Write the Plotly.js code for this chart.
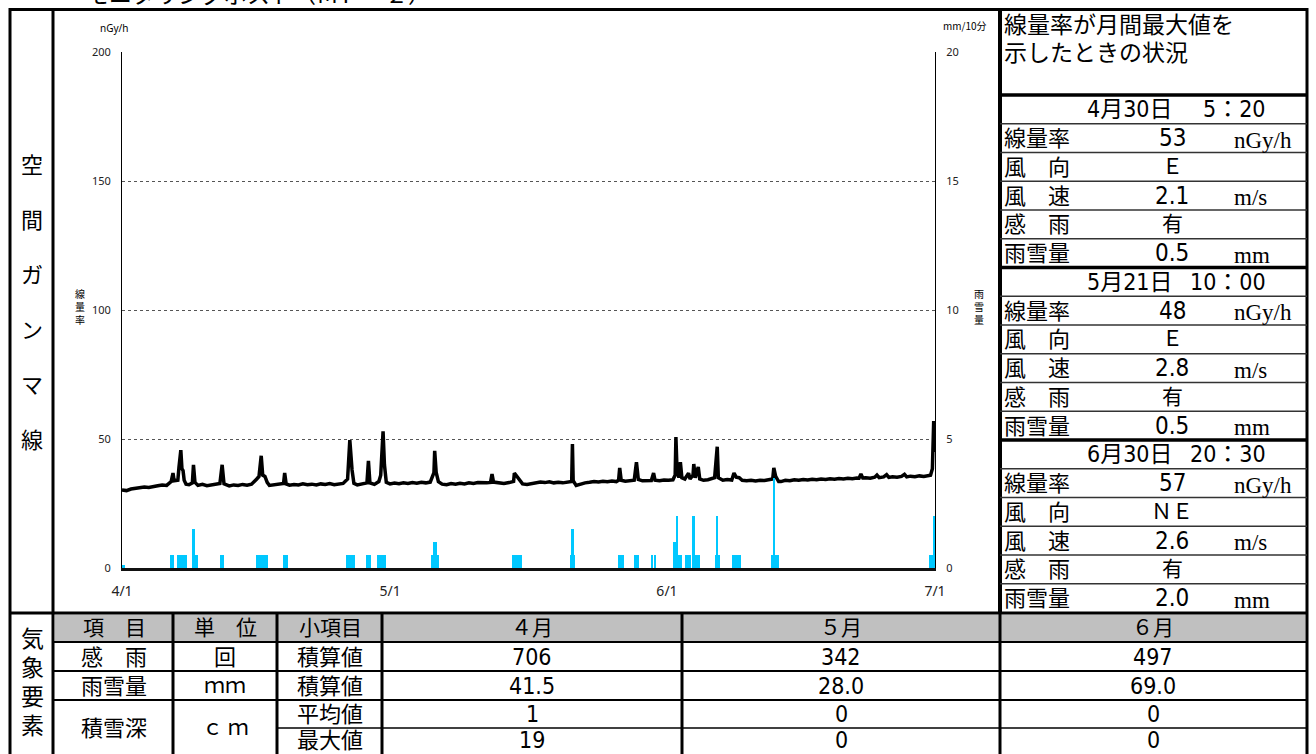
<!DOCTYPE html>
<html><head><meta charset="utf-8">
<script src="https://cdn.plot.ly/plotly-3.0.1.min.js"></script>
<style>html,body{margin:0;padding:0;background:#fff;}#chart{width:1316px;height:754px;}</style>
</head><body><div id="chart"></div>
<script>
// ---------- data ----------
const YEAR = '2024-';
const doseTimes = [
 '04-01 00:00','04-01 12:00','04-02 00:00','04-02 12:00','04-03 00:00','04-03 12:00','04-04 00:00','04-04 12:00','04-05 00:00','04-05 12:00',
 '04-06 00:00','04-06 12:00','04-06 17:00','04-06 20:00','04-07 06:00','04-07 09:00','04-07 14:00','04-07 17:00','04-07 20:00','04-07 23:00',
 '04-08 04:00','04-08 12:00','04-08 21:00','04-09 00:00','04-09 04:00','04-09 12:00','04-10 00:00','04-10 12:00','04-11 00:00','04-11 12:00',
 '04-11 23:00','04-12 05:00','04-12 10:00','04-13 00:00','04-13 12:00','04-14 00:00','04-14 12:00','04-15 00:00','04-15 12:00','04-16 02:00',
 '04-16 08:00','04-16 14:00','04-16 18:00','04-17 00:00','04-17 06:00','04-17 12:00','04-18 00:00','04-18 12:00','04-19 02:00','04-19 05:00',
 '04-19 09:00','04-19 18:00','04-20 06:00','04-20 18:00','04-21 06:00','04-21 18:00','04-22 06:00','04-22 18:00','04-23 06:00','04-23 18:00',
 '04-24 06:00','04-24 18:00','04-25 06:00','04-25 18:00','04-26 06:00','04-26 12:00','04-26 18:00','04-26 23:00','04-27 08:00','04-27 20:00',
 '04-28 10:00','04-28 14:00','04-28 18:00','04-29 06:00','04-29 18:00','04-29 23:00','04-30 05:20','04-30 09:00','04-30 14:00',
 '05-01 00:00','05-01 12:00','05-02 00:00','05-02 12:00','05-03 00:00','05-03 12:00','05-04 00:00','05-04 12:00','05-05 00:00','05-05 12:00',
 '05-05 22:00','05-06 00:00','05-06 04:00','05-06 10:00','05-06 20:00','05-07 08:00','05-07 20:00','05-08 08:00','05-08 20:00','05-09 08:00',
 '05-09 20:00','05-10 08:00','05-10 20:00','05-11 08:00','05-11 20:00','05-12 06:00','05-12 10:00','05-12 14:00','05-13 06:00','05-13 18:00',
 '05-14 08:00','05-14 20:00','05-14 22:00','05-15 04:00','05-15 12:00','05-15 20:00','05-16 08:00','05-16 20:00','05-17 08:00','05-17 20:00',
 '05-18 08:00','05-18 20:00','05-19 08:00','05-19 20:00','05-20 08:00','05-20 20:00','05-21 08:00','05-21 10:00','05-21 12:00','05-21 20:00',
 '05-22 08:00','05-22 20:00','05-23 08:00','05-23 20:00','05-24 08:00','05-24 20:00','05-25 08:00','05-25 20:00','05-26 08:00','05-26 14:00',
 '05-26 17:00','05-26 21:00','05-27 08:00','05-27 20:00','05-28 08:00','05-28 14:00','05-28 19:00','05-29 06:00','05-29 18:00','05-30 06:00',
 '05-30 12:00','05-30 16:00','05-31 04:00','05-31 16:00',
 '06-01 04:00','06-01 16:00','06-01 22:00','06-02 00:00','06-02 03:00','06-02 08:00','06-02 12:00','06-02 16:00','06-03 00:00','06-03 10:00',
 '06-03 14:00','06-03 22:00','06-04 00:00','06-04 04:00','06-04 12:00','06-04 16:00','06-05 02:00','06-05 14:00','06-06 08:00','06-06 15:00',
 '06-06 18:00','06-07 06:00','06-07 18:00','06-08 06:00','06-08 12:00','06-08 18:00','06-09 02:00','06-09 10:00','06-09 22:00','06-10 10:00',
 '06-10 22:00','06-11 10:00','06-11 22:00','06-12 10:00','06-12 20:00','06-12 23:00','06-13 04:00','06-13 12:00','06-13 18:00','06-14 06:00',
 '06-14 18:00','06-15 06:00','06-15 18:00','06-16 06:00','06-16 18:00','06-17 06:00','06-17 18:00','06-18 06:00','06-18 18:00','06-19 06:00',
 '06-19 18:00','06-20 06:00','06-20 18:00','06-21 06:00','06-21 18:00','06-22 06:00','06-22 12:00','06-22 17:00','06-22 22:00','06-23 06:00',
 '06-23 18:00','06-24 06:00','06-24 12:00','06-24 18:00','06-25 06:00','06-25 14:00','06-25 20:00','06-26 06:00','06-26 18:00','06-27 06:00',
 '06-27 14:00','06-27 20:00','06-28 06:00','06-28 18:00','06-29 06:00','06-29 18:00','06-30 06:00','06-30 12:00','06-30 17:00','06-30 19:00',
 '06-30 20:30','06-30 22:00','06-30 23:50'
];
const doseValues = [
 30.2,30.0,30.6,30.9,31.1,31.4,31.2,31.7,31.9,32.2,
 32.0,33.5,36.8,33.8,34.0,39.0,45.7,38.5,37.8,34.0,
 32.5,32.3,33.0,40.0,33.2,32.0,32.4,31.9,32.2,32.5,
 32.8,40.0,32.6,31.8,32.2,32.0,32.4,32.1,32.5,34.5,
 35.5,43.5,36.0,35.5,33.2,32.0,32.3,32.5,32.8,36.8,
 32.6,32.1,32.4,32.2,32.6,32.3,32.5,32.2,32.6,32.4,
 32.7,32.3,32.5,32.8,34.5,49.6,38.0,32.8,32.2,32.6,
 33.0,41.5,33.0,32.4,33.5,36.0,53.0,40.0,33.2,
 32.6,32.9,32.7,33.0,32.8,33.1,32.9,33.2,33.0,33.3,
 37.0,45.4,37.0,33.5,32.5,32.3,32.7,32.5,32.8,32.6,
 33.0,32.8,33.1,32.9,33.0,33.2,36.4,33.3,33.0,32.8,
 33.1,33.6,36.8,35.5,34.0,32.6,32.4,32.7,33.0,33.3,
 33.1,33.4,33.0,33.2,33.0,33.3,33.5,48.0,33.8,32.0,
 32.6,33.0,33.2,33.5,33.3,33.6,33.4,33.7,33.5,34.0,
 38.8,34.0,33.6,33.9,34.0,41.0,34.3,33.8,34.0,33.9,
 36.8,34.0,33.8,34.1,
 34.0,34.2,36.0,50.8,38.0,35.0,41.0,35.0,34.5,36.8,
 34.5,36.0,40.3,35.0,39.2,34.5,34.0,34.2,35.0,47.0,
 35.0,34.0,34.3,34.1,36.8,35.2,35.0,34.0,33.8,34.0,
 33.7,34.0,33.9,34.1,34.5,38.8,35.5,33.5,33.5,34.0,
 33.8,34.2,34.0,34.3,34.1,34.4,34.2,34.5,34.3,34.6,
 34.4,34.7,34.5,34.8,34.6,34.9,34.8,36.4,34.9,35.0,
 34.8,35.2,36.0,35.0,35.3,36.2,35.1,35.4,35.2,35.5,
 36.3,35.3,35.6,35.4,35.7,35.5,35.8,36.0,38.5,48.0,
 57.0,50.0,45.0
];
const rainTimes = [
 '04-01 04:00',
 '04-06 12:00','04-06 17:00','04-07 07:00','04-07 12:00','04-07 17:00','04-07 22:00','04-08 03:00',
 '04-09 00:00','04-09 05:00','04-09 09:00','04-12 01:00','04-12 08:00',
 '04-16 03:00','04-16 08:00','04-16 13:00','04-16 18:00','04-16 21:00','04-17 04:00','04-19 03:00','04-19 10:00',
 '04-26 05:00','04-26 10:00','04-26 15:00','04-26 20:00','04-27 00:00','04-28 10:00','04-28 17:00',
 '04-29 17:00','04-29 22:00','04-30 03:00','04-30 05:20','04-30 08:00','04-30 11:00',
 '05-05 17:00','05-05 22:00','05-06 02:00','05-06 06:00','05-06 09:00',
 '05-14 19:00','05-15 00:00','05-15 05:00','05-15 10:00','05-15 15:00',
 '05-21 07:00','05-21 10:00','05-21 13:00','05-26 15:00','05-26 21:00','05-27 02:00',
 '05-28 10:00','05-28 17:00','05-30 08:00','05-30 15:00',
 '06-01 20:00','06-02 02:00','06-02 05:00','06-02 09:00','06-02 13:00',
 '06-03 03:00','06-03 09:00','06-03 14:00','06-03 23:00','06-04 01:00','06-04 05:00','06-04 10:00','06-04 15:00',
 '06-06 11:00','06-06 15:00','06-06 19:00',
 '06-08 10:00','06-08 15:00','06-08 20:00','06-09 01:00','06-09 05:00',
 '06-12 19:00','06-12 23:00','06-13 04:00','06-13 09:00',
 '06-30 12:00','06-30 16:00','06-30 20:30','06-30 22:00'
];
const rainValues = [
 0.1,
 0.5,0.5,0.5,0.5,0.5,0.5,0.5,
 1.5,0.5,0.5,0.5,0.5,
 0.5,0.5,0.5,0.5,0.5,0.5,0.5,0.5,
 0.5,0.5,0.5,0.5,0.5,0.5,0.5,
 0.5,0.5,0.5,0.5,0.5,0.5,
 0.5,1.0,1.0,0.5,0.5,
 0.5,0.5,0.5,0.5,0.5,
 0.5,1.5,0.5,0.5,0.5,0.5,
 0.5,0.5,0.5,0.5,
 1.0,2.0,0.5,0.5,0.5,
 0.5,0.5,0.5,2.0,1.0,0.5,0.5,0.5,
 0.5,2.0,0.5,
 0.5,0.5,0.5,0.5,0.5,
 0.5,3.5,0.5,0.5,
 0.5,0.5,2.0,0.5
];
const xTickVals = ['04-01','05-01','06-01','07-01'];
const xTickText = ['4/1','5/1','6/1','7/1'];
const doseTicks = [0,50,100,150,200];
const rainTicks = [0,5,10,15,20];

// right panel: status when dose rate hit the monthly maximum
const maxDates = ['4月30日','5月21日','6月30日'];
const maxTimes = ['5：20','10：00','20：30'];
const maxDose = ['53','48','57'];
const windDir = ['Ｅ','Ｅ','ＮＥ'];
const windSpeed = ['2.1','2.8','2.6'];
const rainSense = ['有','有','有'];
const rainAmount = ['0.5','0.5','2.0'];
const panelLabels = ['線量率','風　向','風　速','感　雨','雨雪量'];
const panelUnits = ['nGy/h','','m/s','','mm'];

// bottom table
const months = ['４月','５月','６月'];
const rainCount = ['706','342','497'];
const precipTotal = ['41.5','28.0','69.0'];
const snowAvg = ['1','0','0'];
const snowMax = ['19','0','0'];

// ---------- geometry ----------
const W = 1316, H = 754, PL = 122, PR = 935, PT = 52, PB = 568;
const fx = x => (x - PL) / (PR - PL);
const fy = y => (PB - y) / (PB - PT);
const JP = '"Noto Sans CJK JP", sans-serif';
const NARROW = '"Liberation Sans Narrow", "DejaVu Sans Condensed", "Noto Sans CJK JP", sans-serif';
const SERIF = '"Liberation Serif", "DejaVu Serif", serif';
const shapes = [], ann = [];
function hl(y, x0, x1, w, c) { shapes.push({type:'line', xref:'paper', yref:'paper', x0:fx(x0), x1:fx(x1), y0:fy(y), y1:fy(y), line:{color:c||'#000', width:w}}); }
function vl(x, y0, y1, w, c) { shapes.push({type:'line', xref:'paper', yref:'paper', x0:fx(x), x1:fx(x), y0:fy(y0), y1:fy(y1), line:{color:c||'#000', width:w}}); }
function rect(x0, y0, x1, y1, fill) { shapes.push({type:'rect', xref:'paper', yref:'paper', x0:fx(x0), x1:fx(x1), y0:fy(y1), y1:fy(y0), fillcolor:fill, line:{width:0}, layer:'below'}); }
function tx(x, y, text, size, anchor, family, yanchor) {
  const fam = family || JP;
  const dy = (fam === JP && !yanchor) ? -2 : 0;
  ann.push({xref:'paper', yref:'paper', x:fx(x), y:fy(y + dy), text:text, showarrow:false,
    xanchor:anchor||'center', yanchor:yanchor||'middle', borderpad:0,
    font:{size:size, family:fam, color:'#000'}});
}

// outer frame
hl(9.5, 9, 1308, 3);
vl(10, 8, 760, 3);
vl(53, 8, 760, 3);
vl(1000, 8, 613, 4);
vl(1307, 8, 760, 3);
hl(613, 9, 1308, 3);

// clipped heading at the very top
tx(85, 11, 'モニタリングポスト（ＭＰ－２）', 23, 'left', JP, 'bottom');

// left vertical label
'空間ガンマ線'.split('').forEach((c, i) => tx(32, 165 + 55 * i, c, 22));

// axis units and titles
tx(114, 28, 'nGy/h', 10, 'center', '"Noto Sans", sans-serif');
tx(965, 28, 'mm/10分', 10, 'center', JP);
tx(80, 308, '線<br>量<br>率', 10);
tx(979, 308, '雨<br>雪<br>量', 10);

// right panel
tx(1003, 25, '線量率が月間最大値を', 23, 'left');
tx(1003, 53, '示したときの状況', 23, 'left');
const blockTop = [95, 267.5, 440], rowH = 28.75;
blockTop.forEach((top, b) => {
  hl(top, 1000, 1307, 3.5);
  for (let r = 1; r < 6; r++) hl(top + r * rowH, 1000, 1307, 1.5, '#333');
  const c0 = top + rowH / 2;
  tx(1174, c0, maxDates[b], 23, 'right', NARROW);
  tx(1267, c0, maxTimes[b], 23, 'right', NARROW);
  const vals = [maxDose[b], windDir[b], windSpeed[b], rainSense[b], rainAmount[b]];
  for (let r = 0; r < 5; r++) {
    const cy = top + (r + 1) * rowH + rowH / 2;
    tx(1003, cy, panelLabels[r], 22, 'left');
    const isNum = /^[0-9.]+$/.test(vals[r]);
    tx(1172, cy, vals[r], isNum ? 24 : 21, 'center', isNum ? NARROW : JP);
    if (panelUnits[r]) tx(1233, cy + 2, panelUnits[r], 23, 'left', SERIF);
  }
});

// bottom table
rect(55, 614.5, 1305.5, 641.5, '#c0c0c0');
hl(642, 53, 1307, 2);
hl(671, 53, 1307, 2);
hl(700, 53, 1307, 2);
hl(728, 277, 1307, 1.5);
[173, 277, 382, 682].forEach(x => vl(x, 613, 760, 3));
vl(1000, 613, 760, 3);
'気象要素'.split('').forEach((c, i) => tx(32, 639 + 29 * i, c, 23));
const colC = [114, 225, 330, 532, 841, 1153];
const rowC = [628, 657, 686, 714, 741];
tx(colC[0], rowC[0], '項　目', 21);
tx(colC[1], rowC[0], '単　位', 21);
tx(colC[2], rowC[0], '小項目', 21);
months.forEach((m, i) => tx(colC[3 + i], rowC[0], m, 21));
tx(colC[0], rowC[1], '感　雨', 22);
tx(colC[1], rowC[1], '回', 22);
tx(colC[2], rowC[1], '積算値', 22);
tx(colC[0], rowC[2], '雨雪量', 22);
tx(colC[1], rowC[2], 'ｍｍ', 21);
tx(colC[2], rowC[2], '積算値', 22);
tx(colC[0], 728, '積雪深', 22);
tx(colC[1], 728, 'ｃ ｍ', 21);
tx(colC[2], rowC[3], '平均値', 22);
tx(colC[2], rowC[4] - 1, '最大値', 22);
[rainCount, precipTotal, snowAvg, snowMax].forEach((arr, r) => {
  arr.forEach((v, i) => tx(colC[3 + i], rowC[r + 1] - (r === 3 ? 1 : 0), v, 23, 'center', NARROW));
});

// ---------- traces ----------
const traces = [
  {type:'scatter', mode:'lines', x: doseTimes.map(t => YEAR + t), y: doseValues,
   line:{color:'#000', width:3.5}, yaxis:'y', hoverinfo:'skip', name:'線量率'},
  {type:'bar', x: rainTimes.map(t => YEAR + t), y: rainValues, yaxis:'y2',
   width: 6 * 3600 * 1000, marker:{color:'#00c8ff', line:{width:0}}, hoverinfo:'skip', name:'雨雪量'}
];

const tickFont = {family:'"Noto Sans", sans-serif', size:11, color:'#222'};
const layout = {
  width: W, height: H,
  margin: {l: PL, r: W - PR, t: PT, b: H - PB, pad: 0},
  paper_bgcolor: '#fff', plot_bgcolor: '#fff', showlegend: false,
  barmode: 'overlay', bargap: 0,
  xaxis: {type:'date', range:[YEAR + '04-01 00:00', YEAR + '07-01 00:00'],
    tickmode:'array', tickvals: xTickVals.map(d => YEAR + d), ticktext: xTickText,
    showgrid:false, zeroline:false, showline:true, linecolor:'#111', linewidth:2.5,
    ticks:'', tickfont:{family:'"Noto Sans", sans-serif', size:14, color:'#222'},
    ticklabelstandoff: 9, layer:'below traces', fixedrange:true},
  yaxis: {range:[0, 200], tickmode:'array', tickvals: doseTicks,
    showgrid:true, gridcolor:'#555', griddash:'dot', gridwidth:1,
    zeroline:false, showline:true, linecolor:'#000', linewidth:1,
    ticks:'', tickfont: tickFont, ticklabelstandoff: 8, fixedrange:true},
  yaxis2: {range:[0, 20], tickmode:'array', tickvals: rainTicks, overlaying:'y', side:'right',
    showgrid:false, zeroline:false, showline:true, linecolor:'#000', linewidth:1,
    ticks:'', tickfont: tickFont, ticklabelstandoff: 8, fixedrange:true},
  shapes: shapes, annotations: ann
};
Plotly.newPlot('chart', traces, layout, {staticPlot:true, displayModeBar:false});
</script>
</body></html>
